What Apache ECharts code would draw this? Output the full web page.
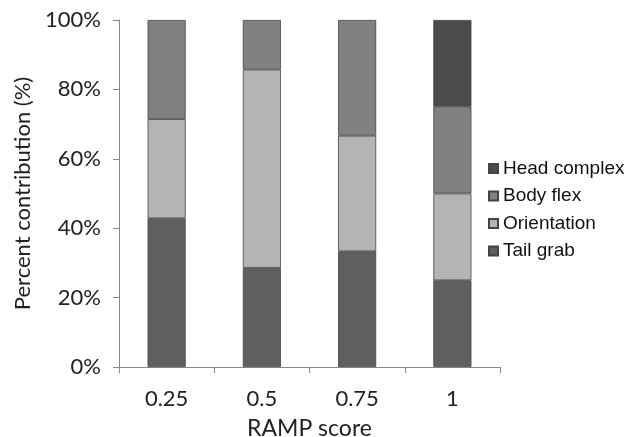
<!DOCTYPE html>
<html><head><meta charset="utf-8">
<script src="https://cdn.jsdelivr.net/npm/echarts@6/dist/echarts.min.js"></script>
<style>html,body{margin:0;padding:0;background:#fff}#c{width:630px;height:437px}</style>
</head><body><div id="c"></div>
<script>
const categories = ['0.25', '0.5', '0.75', '1'];
const tailGrab = [42.86, 28.57, 33.33, 25];
const orientation = [28.57, 57.14, 33.33, 25];
const bodyFlex = [28.57, 14.29, 33.34, 25];
const headComplex = ['-', '-', '-', 25];
const yTicks = [0, 20, 40, 60, 80, 100];

const chart = echarts.init(document.getElementById('c'));
const border = {borderColor: '#444', borderWidth: 0.8};
function s(name, data, color) {
  return {name, type: 'bar', stack: 'a', data, barWidth: '40%',
    itemStyle: Object.assign({color}, border)};
}
chart.setOption({
  animation: false,
  grid: {left: 119, right: 130, top: 20, bottom: 70, outerBoundsMode: 'none', containLabel: false},
  legend: {
    orient: 'vertical', left: 483, top: 154, itemWidth: 9, itemHeight: 9, itemGap: 8.5,
    icon: 'rect',
    data: ['Head complex', 'Body flex', 'Orientation', 'Tail grab'],
    textStyle: {fontFamily: 'Liberation Sans', fontSize: 19, color: '#111', padding: [0, 0, 0, 0]}
  },
  xAxis: {
    type: 'category', data: categories,
    name: 'RAMP score', nameLocation: 'middle', nameGap: 50,
    nameTextStyle: {fontFamily: 'Lato', fontSize: 23, color: '#222'},
    axisLine: {lineStyle: {color: '#888'}},
    axisTick: {show: true, length: 6, lineStyle: {color: '#888'}},
    axisLabel: {fontFamily: 'Lato', fontSize: 22, color: '#222', margin: 21}
  },
  yAxis: {
    type: 'value', min: 0, max: 100, interval: 20,
    name: 'Percent contribution (%)', nameLocation: 'middle', nameGap: 74,
    nameTextStyle: {fontFamily: 'Lato', fontSize: 22, color: '#222'},
    axisLine: {show: true, lineStyle: {color: '#888'}},
    axisTick: {show: true, length: 6, lineStyle: {color: '#888'}},
    splitLine: {show: false},
    axisLabel: {fontFamily: 'Lato', fontSize: 22, color: '#222', margin: 18,
      formatter: v => yTicks.includes(v) ? v + '%' : ''}
  },
  series: [
    s('Tail grab', tailGrab, '#5f5f5f'),
    s('Orientation', orientation, '#b4b4b4'),
    s('Body flex', bodyFlex, '#818181'),
    s('Head complex', headComplex, '#4b4b4b')
  ]
});
</script></body></html>
